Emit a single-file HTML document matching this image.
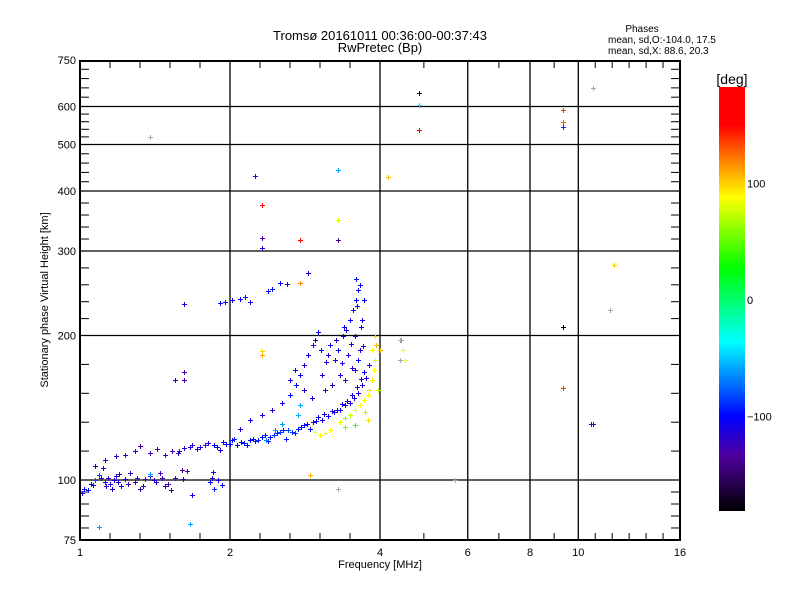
<!DOCTYPE html>
<html><head><meta charset="utf-8"><style>
body{margin:0;background:#fff}
svg{display:block;font-family:"Liberation Sans",sans-serif}
</style></head><body>
<svg id="c" width="800" height="600" viewBox="0 0 800 600">
<defs><linearGradient id="cb" x1="0" y1="0" x2="0" y2="1">
<stop offset="0" stop-color="#ff0000"/><stop offset="0.09" stop-color="#ff0000"/><stop offset="0.172" stop-color="#ff8000"/><stop offset="0.26" stop-color="#ffff00"/><stop offset="0.427" stop-color="#00ff00"/><stop offset="0.601" stop-color="#00ffff"/><stop offset="0.778" stop-color="#0000ff"/><stop offset="0.868" stop-color="#5000a0"/><stop offset="1" stop-color="#000000"/>
</linearGradient></defs>
<text x="380" y="40" font-size="13" text-anchor="middle">Tromsø 20161011 00:36:00-00:37:43</text>
<text x="380" y="52" font-size="13" text-anchor="middle">RwPretec (Bp)</text>
<g font-size="10">
<text x="642" y="32" text-anchor="middle">Phases</text>
<text x="608" y="43">mean, sd,O:-104.0, 17.5</text>
<text x="608" y="54">mean, sd,X:  88.6, 20.3</text>
</g>
<g id="grid"></g>
<g id="ticks"></g>
<g id="pts"></g>
<rect x="80" y="61" width="600" height="479" fill="none" stroke="#000" stroke-width="2"/>
<text x="380" y="568" font-size="11" text-anchor="middle">Frequency [MHz]</text>
<text transform="translate(48,300) rotate(-90)" font-size="11" text-anchor="middle">Stationary phase Virtual Height [km]</text>
<rect x="719" y="87" width="26" height="424" fill="url(#cb)"/>
<text x="732" y="84" font-size="14" text-anchor="middle">[deg]</text>
<g id="cbl" font-size="11"></g>
</svg>
<script>
const xTicks=[1,2,4,6,8,10,16];
const yTicks=[75,100,200,300,400,500,600,750];
const cbTicks=[100,0,-100];
const freq=[1.01,1.04,1.06,1.07,1.09,1.11,1.12,1.14,1.15,1.16,1.18,1.19,1.21,1.23,1.26,1.29,1.32,1.35,1.38,1.41,1.45,1.48,1.52,1.55,1.61,1.64,1.82,1.86,1.89,1.93,1.84,1.85,1.6,1.68,1.38,
1.07,1.12,1.18,1.23,1.29,1.32,1.38,1.43,1.48,1.53,1.57,1.62,1.68,1.74,1.81,1.86,1.91,1.96,2.02,2.07,2.13,2.19,2.25,2.32,2.38,2.45,2.52,2.59,2.66,2.74,2.81,2.9,2.97,3.06,3.15,3.23,3.33,3.4,3.48,3.54,3.61,3.68,3.75,3.81,
2.54,2.74,2.46,2.76,2.36,
2.09,2.19,2.32,2.43,2.54,2.64,2.71,2.76,2.81,2.87,2.93,2.96,3.0,3.06,3.12,3.04,3.17,3.25,3.3,3.37,3.42,3.48,3.53,3.58,3.61,3.64,3.56,3.45,3.33,3.2,3.1,3.4,3.56,3.64,3.68,3.71,2.7,2.82,2.64,2.92,
2.96,3.03,3.1,3.17,3.33,3.4,3.48,3.56,3.64,3.71,3.78,3.81,3.85,3.89,3.91,3.85,3.92,3.91,4.0,3.96,3.73,3.56,3.4,3.78,4.45,4.5,4.4,4.38,4.38,
1.91,1.95,2.02,2.09,2.14,2.19,1.62,2.38,2.43,2.52,2.6,2.87,2.76,
2.25,2.32,2.32,2.32,2.76,3.3,3.3,3.3,4.15,4.8,4.8,4.8,9.3,9.3,9.3,9.3,9.3,10.7,10.6,11.8,11.6,10.7,1.38,1.09,1.66,5.66,3.3,2.9,2.32,2.32,1.62,1.62,1.55,
1.02,1.05,1.1,1.13,1.17,1.2,1.25,1.3,1.34,1.42,1.46,1.5,1.58,1.66,1.72,1.78,1.88,1.94,2.0,2.04,2.1,2.16,2.22,2.28,2.35,2.41,2.48,2.56,2.62,2.7,2.78,2.85,2.94,3.01,3.09,3.2,3.28,3.36,3.44,3.52,3.59,3.66,3.72,3.62,3.5,3.38,3.26,3.14,3.6,3.66,3.58,3.7,3.52,3.35];
const height=[94,95.3,97.6,100,102.4,105.9,99,101,98,96,102,99,97,100.5,103.4,99,96,100.5,102,100,103.4,97,95.3,101,100.5,104.4,99,96,100,97.6,101,104,105,93,103,
107,110,112,113,115,117.7,114,116,113,115,114,116.6,118,117,119.5,118,115.5,119,121,118,119.5,121,120.6,122.9,120.6,124,126,122,126,128,130,128,133,133.4,136,138.5,140,143.4,145,148,152,157.6,163,174,
130.8,136.6,127,143.4,121,
128,133.4,136.5,140,145,150,158,165.5,174,182,191,195.7,203,165.5,176,186.5,191,177.8,186.5,200,205,215,226,237,249,255,200,182,165.5,158,154,161.6,169.5,186.5,215,237,169.5,154,161.6,148,
126,124,125,127,132,134.6,136.6,140,143.4,146.8,150,154,161.6,169.5,177.8,186.5,191,200,186.5,154,138.5,130,129,133.4,186.5,177.8,195.7,177.8,195.7,
234,235,237,238,241,235,233,248,249.5,257,256,270,257,
430,374,320,305,316,348,316,442,428,641,605,536,590,557,544,208,155.6,130.8,131,281,226,655,518,80,81,100,96,102.4,182,186,161.6,168,161.6,
96,98,101,97,100,103,98,101,97,99,101,98,115,117,116,118,117,120,119,122,120,118,122,121,124,123,125,127,127,125,129,131,132,135,137,139,140,144,146,150,156,162,168,178,192,208,196,182,230,208,262,190,171,175];
const phase=[-110,-95,-100,-80,-85,-110,-105,-120,-115,-110,-120,-115,-110,-105,-120,-125,-120,-130,-120,-115,-125,-130,-130,-125,-120,-130,-100,-90,-110,-100,-120,-110,-140,-110,-60,
-105,-110,-120,-125,-120,-125,-125,-130,-120,-125,-120,-115,-120,-110,-115,-100,-110,-105,-100,-100,-95,-100,-95,-95,-100,-90,-85,-95,-85,-95,-100,-100,-105,-110,-105,-110,-110,-115,-110,-115,-115,-110,-110,-105,
-60,-55,-65,-60,-70,
-110,-105,-110,-115,-105,-100,-100,-105,-110,-105,-100,-110,-105,-110,-115,-100,-105,-110,-100,-105,-110,-105,-100,-100,-105,-100,-110,-115,-115,-120,-125,-120,-120,-110,-105,-100,-110,-115,-110,-110,
88,92,84,88,80,60,70,84,88,84,88,95,92,88,84,88,105,98,105,70,70,40,50,98,88,84,120,NaN,NaN,
-100,-110,-105,-100,-95,-110,-110,-100,-95,-100,-110,-110,120,
-95,150,-130,-110,150,80,-140,-60,105,-160,-40,150,140,130,-90,-180,140,-130,-130,100,NaN,NaN,NaN,-60,-60,NaN,NaN,110,110,100,-130,-130,-110,
-100,-110,-120,-115,-110,-120,-125,-120,-125,-120,-125,-130,-120,-115,-110,-115,-110,-100,-100,-95,-100,-95,-100,-90,-95,-100,-90,-95,-85,-90,-100,-100,-105,-105,-110,-110,-115,-110,-115,-110,-105,-110,-105,-100,-105,-100,-115,-115,-100,-105,-95,-110,-120,-115];
const NS='http://www.w3.org/2000/svg';
const X0=80,PX=150,Y0=480,PY=480;
function xs(f){return X0+PX*Math.log2(f);}
function ys(h){return Y0-PY*Math.log10(h/100);}
function mk(t,a,p){const e=document.createElementNS(NS,t);for(const k in a)e.setAttribute(k,a[k]);p.appendChild(e);return e;}
const stops=[[0,[255,0,0]],[0.09,[255,0,0]],[0.172,[255,128,0]],[0.26,[255,255,0]],[0.427,[0,255,0]],[0.601,[0,255,255]],[0.778,[0,0,255]],[0.868,[80,0,160]],[1,[0,0,0]]];
function pcy(p){return 300-1.165*p;}
function col(p){if(isNaN(p))return '#a8a8a8';let t=(pcy(p)-87)/424;t=Math.max(0,Math.min(1,t));
for(let i=1;i<stops.length;i++){if(t<=stops[i][0]){const a=stops[i-1],b=stops[i];const u=(t-a[0])/((b[0]-a[0])||1);
const c=a[1].map((v,j)=>Math.round(v+(b[1][j]-v)*u));return 'rgb('+c.join(',')+')';}}return '#000';}
const g=document.getElementById('grid'),tk=document.getElementById('ticks'),pts=document.getElementById('pts'),cbl=document.getElementById('cbl');
xTicks.forEach((v,i)=>{const x=xs(v);
 if(i>0&&i<xTicks.length-1){const l=mk('line',{x1:x,y1:61,x2:x,y2:540,stroke:'#000','stroke-width':1.3},g);
 
 }
 const t=mk('text',{x:x,y:556,'font-size':11,'text-anchor':'middle'},tk);t.textContent=v;
 
 
 if(i<xTicks.length-1){const x2=xs(xTicks[i+1]);const n=(i<2)?5:(i==5?6:2);
  for(let k=1;k<n;k++){const xm=x+(x2-x)*k/n;mk('line',{x1:xm,y1:540,x2:xm,y2:533,stroke:'#000'},tk);mk('line',{x1:xm,y1:61,x2:xm,y2:68,stroke:'#000'},tk);}}
});
yTicks.forEach((v,i)=>{const y=ys(v);
 if(i>0&&i<yTicks.length-1){const l=mk('line',{x1:80,y1:y,x2:680,y2:y,stroke:'#000','stroke-width':1.3},g);
 
 }
 const t=mk('text',{x:76,y:y+4,'font-size':11,'text-anchor':'end'},tk);t.textContent=v;
 
 
 if(i<yTicks.length-1){const y2=ys(yTicks[i+1]);const n=5;
  for(let k=1;k<n;k++){const ym=y+(y2-y)*k/n;mk('line',{x1:80,y1:ym,x2:89,y2:ym,stroke:'#000'},tk);mk('line',{x1:680,y1:ym,x2:671,y2:ym,stroke:'#000'},tk);}}
});
cbTicks.forEach(v=>{const t=mk('text',{x:747,y:pcy(v)+4},cbl);t.textContent=v<0?'\u2212'+(-v):v;
 
 });
for(let i=0;i<freq.length;i++){const x=Math.round(xs(freq[i])),y=Math.round(ys(height[i]));const c=col(phase[i]);
 const p=mk('path',{d:`M${x-2},${y+0.5}h5M${x+0.5},${y-2}v5`,stroke:c,'stroke-width':1},pts);
 
 }
</script>
</body></html>
